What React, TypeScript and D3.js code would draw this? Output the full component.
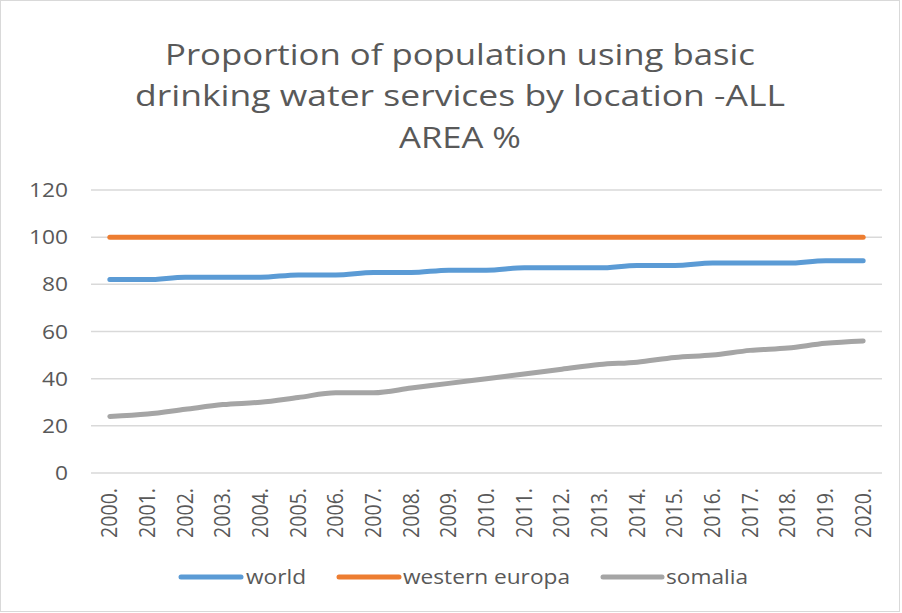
import React from "react";
import * as d3 from "d3";

const years = ["2000.","2001.","2002.","2003.","2004.","2005.","2006.","2007.","2008.","2009.","2010.","2011.","2012.","2013.","2014.","2015.","2016.","2017.","2018.","2019.","2020."];
const world = [82,82,83,83,83,84,84,85,85,86,86,87,87,87,88,88,89,89,89,90,90];
const westernEuropa = [100,100,100,100,100,100,100,100,100,100,100,100,100,100,100,100,100,100,100,100,100];
const somalia = [24,25,27,29,30,32,34,34,36,38,40,42,44,46,47,49,50,52,53,55,56];
const yTicks = [0,20,40,60,80,100,120];
const titleLines = ["Proportion of population using basic", "drinking water services by location -ALL", "AREA %"];
const seriesNames = ["world", "western europa", "somalia"];
const seriesColors = ["#5b9bd5", "#ed7d31", "#a5a5a5"];

export default function App() {
  const W = 902, H = 613;
  const x = d3.scalePoint<string>().domain(years).range([91, 882]).padding(0.5);
  const y = d3.scaleLinear().domain([0, 120]).range([473, 190]);
  const line = d3.line<number>().x((_, i) => x(years[i]) as number).y(d => y(d)).curve(d3.curveMonotoneX);
  const series = [world, westernEuropa, somalia];
  const font = "Open Sans, sans-serif";
  const textColor = "#595959";
  const titleY = [65, 106, 148];
  const titleLen = [590, 650, 122];
  const legend = [
    { x1: 181, x2: 241, tx: 246, tl: 60 },
    { x1: 339, x2: 399, tx: 403, tl: 167 },
    { x1: 603, x2: 662, tx: 666, tl: 82 },
  ];
  return (
    <div style={{ position: "absolute", left: 0, top: 0 }}>
      <svg width={W} height={H} style={{ display: "block", background: "#fff" }}>
        <rect x={0.5} y={0.5} width={W - 3} height={H - 2} fill="#fff" stroke="#d9d9d9" />
        {titleLines.map((t, i) => (
          <text key={i} x={460} y={titleY[i]} textAnchor="middle" fontFamily={font} fontSize={29}
            fill={textColor} textLength={titleLen[i]} lengthAdjust="spacingAndGlyphs">{t}</text>
        ))}
        {yTicks.map(t => (
          <g key={t}>
            <line x1={91} x2={882} y1={y(t)} y2={y(t)} stroke="#d9d9d9" strokeWidth={1.5} />
            <text x={68} y={y(t)} dy="0.35em" textAnchor="end" fontFamily={font} fontSize={20}
              fill={textColor} textLength={t >= 100 ? 39 : t > 0 ? 26 : 13} lengthAdjust="spacingAndGlyphs">{t}</text>
          </g>
        ))}
        {years.map(yr => (
          <text key={yr} transform={`translate(${(x(yr) as number)},488) rotate(-90)`} dy="0.35em"
            textAnchor="end" fontFamily={font} fontSize={21} fill={textColor}
            textLength={50} lengthAdjust="spacingAndGlyphs">{yr}</text>
        ))}
        {series.map((s, i) => (
          <path key={i} d={line(s) || ""} fill="none" stroke={seriesColors[i]} strokeWidth={5}
            strokeLinecap="round" strokeLinejoin="round" />
        ))}
        {legend.map((l, i) => (
          <g key={i}>
            <line x1={l.x1} x2={l.x2} y1={577} y2={577} stroke={seriesColors[i]} strokeWidth={5} strokeLinecap="round" />
            <text x={l.tx} y={577} dy="0.35em" fontFamily={font} fontSize={20} fill={textColor}
              textLength={l.tl} lengthAdjust="spacingAndGlyphs">{seriesNames[i]}</text>
          </g>
        ))}
      </svg>
    </div>
  );
}
